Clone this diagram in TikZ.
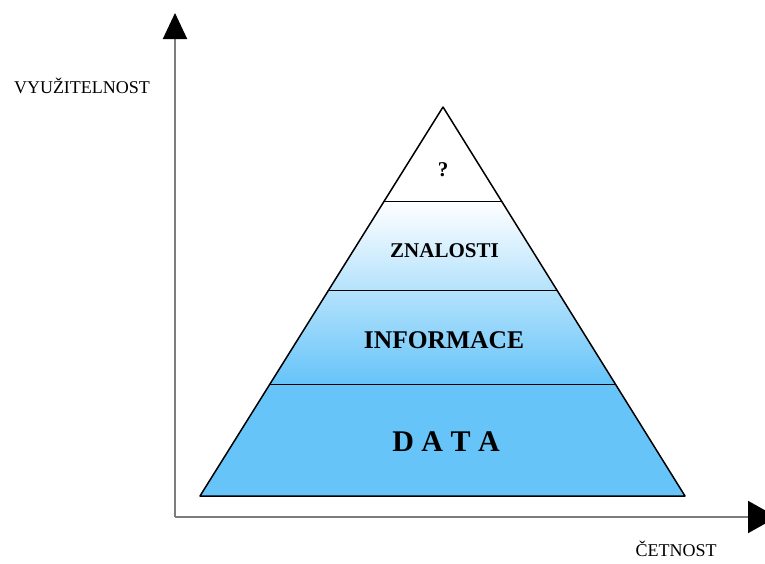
\documentclass[tikz,border=0pt]{standalone}
\usepackage{fontspec}
\setmainfont{Liberation Serif}
\usetikzlibrary{arrows.meta,calc}
\definecolor{pyrblue}{RGB}{102,196,249}
\definecolor{axisgray}{RGB}{125,125,125}
\tikzset{
  axis/.style={draw=axisgray, line width=2pt},
  layer/.style={font=\bfseries\fontsize{#1}{#1}\selectfont, anchor=base, inner sep=0pt},
  axislabel/.style={font=\fontsize{18}{20}\selectfont, anchor=base, inner sep=0pt},
}
\begin{document}
\begin{tikzpicture}[x=1pt,y=-1pt]
  \useasboundingbox (0,0) rectangle (765,563);
  % axes
  \coordinate (origin) at (175,517);
  \coordinate (ytip) at (175,13);
  \coordinate (xtip) at (777,517);
  \draw[axis, -{Triangle[length=26pt,width=24pt,color=black]}] (origin) -- (ytip);
  \draw[axis, -{Triangle[length=29pt,width=32pt,color=black]}] (origin) -- (xtip);
  % pyramid
  \coordinate (apex) at (443,107);
  \coordinate (bl) at (200,496);
  \coordinate (br) at (685,496);
  \foreach \name/\t in {a/0.2416,b/0.4704,c/0.7121} {
    \coordinate (\name-l) at ($(apex)!\t!(bl)$);
    \coordinate (\name-r) at ($(apex)!\t!(br)$);
  }
  \fill[pyrblue] (c-l) -- (c-r) -- (br) -- (bl) -- cycle;
  \shade[top color=white, bottom color=pyrblue] (a-l) -- (a-r) -- (c-r) -- (c-l) -- cycle;
  \draw[line width=0.9pt] (a-l) -- (a-r) (b-l) -- (b-r) (c-l) -- (c-r);
  \draw[line width=1.5pt, line join=round] (apex) -- (br) -- (bl) -- cycle;
  % labels
  \node[layer=21] (top) at (443,176) {?};
  \node[layer=21] (znalosti) at (444.5,257) {ZNALOSTI};
  \node[layer=25.5] (informace) at (444,348) {INFORMACE};
  \node[layer=30] (data) at (446,451) {D A T A};
  \node[axislabel] (yname) at (82,93) {VYUŽITELNOST};
  \node[axislabel] (xname) at (676,556) {ČETNOST};
\end{tikzpicture}
\end{document}
